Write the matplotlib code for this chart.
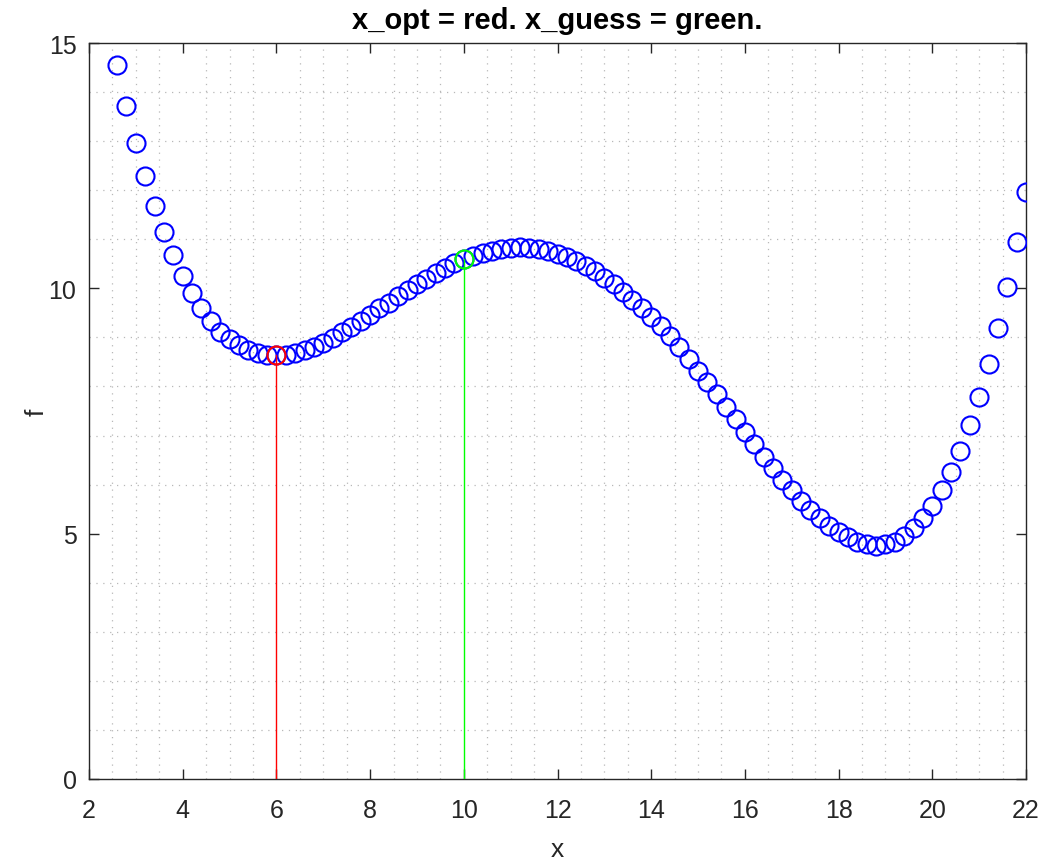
import matplotlib
matplotlib.use("Agg")
import matplotlib.pyplot as plt
import numpy as np

# ---- data ----
x_start = 2.6
x_step = 0.2
f_values = [
    14.55, 13.72, 12.96, 12.29, 11.68, 11.15, 10.68, 10.26, 9.90, 9.59,   # 2.6 .. 4.4
    9.33, 9.12, 8.96, 8.84, 8.75, 8.69, 8.65, 8.64,                         # 4.6 .. 6.0
    8.65, 8.69, 8.74, 8.81, 8.89, 8.99, 9.10, 9.21, 9.33, 9.46,             # 6.2 .. 8.0
    9.59, 9.71, 9.84, 9.97, 10.09, 10.20, 10.31, 10.41, 10.51, 10.59,       # 8.2 .. 10.0
    10.66, 10.72, 10.77, 10.81, 10.83, 10.84, 10.83, 10.80, 10.76, 10.70,   # 10.2 .. 12.0
    10.63, 10.55, 10.46, 10.36, 10.22, 10.08, 9.93, 9.77, 9.60, 9.42,       # 12.2 .. 14.0
    9.23, 9.02, 8.80, 8.56, 8.32, 8.09, 7.84, 7.58, 7.33, 7.07,             # 14.2 .. 16.0
    6.82, 6.57, 6.33, 6.10, 5.88, 5.67, 5.48, 5.31, 5.16, 5.04,             # 16.2 .. 18.0
    4.93, 4.84, 4.78, 4.75, 4.78, 4.84, 4.95, 5.11, 5.31, 5.57,             # 18.2 .. 20.0
    5.89, 6.26, 6.69, 7.21, 7.79, 8.46, 9.20, 10.02, 10.95, 11.96,          # 20.2 .. 22.0
]
x_values = [round(x_start + i * x_step, 1) for i in range(len(f_values))]

x_opt = 6.0
f_opt = 8.64
x_guess = 10.0
f_guess = 10.59

title_text = "x_opt = red. x_guess = green."
x_label = "x"
y_label = "f"
x_ticks = [2, 4, 6, 8, 10, 12, 14, 16, 18, 20, 22]
y_ticks = [0, 5, 10, 15]

# ---- styling ----
plt.rcParams['font.family'] = ['Liberation Sans', 'DejaVu Sans']
axis_color = (0.15, 0.15, 0.15)

fig = plt.figure(figsize=(10.55, 8.62), dpi=100)
ax = fig.add_axes([89 / 1055, (862 - 780) / 862, 937 / 1055, 736 / 862])

# dotted grid (minor positions)
ax.set_xticks(np.arange(2, 22.01, 0.5), minor=True)
ax.set_yticks(np.arange(0, 15.01, 1), minor=True)
ax.grid(which='minor', color=(0.72, 0.72, 0.72), linestyle=(0, (1.0, 4.5)), linewidth=0.9)
ax.grid(which='major', visible=False)
ax.set_axisbelow(True)

ax.plot(x_values, f_values, linestyle='none', marker='o', markersize=13,
        markerfacecolor='none', markeredgecolor=(0, 0, 1), markeredgewidth=1.5, zorder=3)

ax.plot([x_opt, x_opt], [0, f_opt], color=(1, 0, 0), linewidth=1.0, zorder=4)
ax.plot([x_opt], [f_opt], linestyle='none', marker='o', markersize=13,
        markerfacecolor='none', markeredgecolor=(1, 0, 0), markeredgewidth=1.5, zorder=5)
ax.plot([x_guess, x_guess], [0, f_guess], color=(0, 1, 0), linewidth=1.0, zorder=4)
ax.plot([x_guess], [f_guess], linestyle='none', marker='o', markersize=13,
        markerfacecolor='none', markeredgecolor=(0, 1, 0), markeredgewidth=1.5, zorder=5)

ax.set_xlim(2, 22)
ax.set_ylim(0, 15)
ax.set_xticks(x_ticks)
ax.set_yticks(y_ticks)
ax.set_xticklabels([str(t) for t in x_ticks])
ax.set_yticklabels([str(t) for t in y_ticks])

ax.tick_params(which='major', direction='in', length=7, width=1.0, top=True, right=True,
               colors=axis_color, labelsize=18)
ax.tick_params(axis='x', which='major', pad=13.5)
ax.tick_params(axis='y', which='major', pad=9)
ax.tick_params(which='minor', length=0, top=True, right=True)
for sp in ax.spines.values():
    sp.set_color(axis_color)
    sp.set_linewidth(1.0)

ax.set_title(title_text, fontsize=21, fontweight='bold', color='black', pad=11)
ax.set_xlabel(x_label, fontsize=19, color=axis_color, labelpad=11)
ax.set_ylabel(y_label, fontsize=19, color=axis_color, labelpad=0)

fig.savefig("out.png", dpi=100)
